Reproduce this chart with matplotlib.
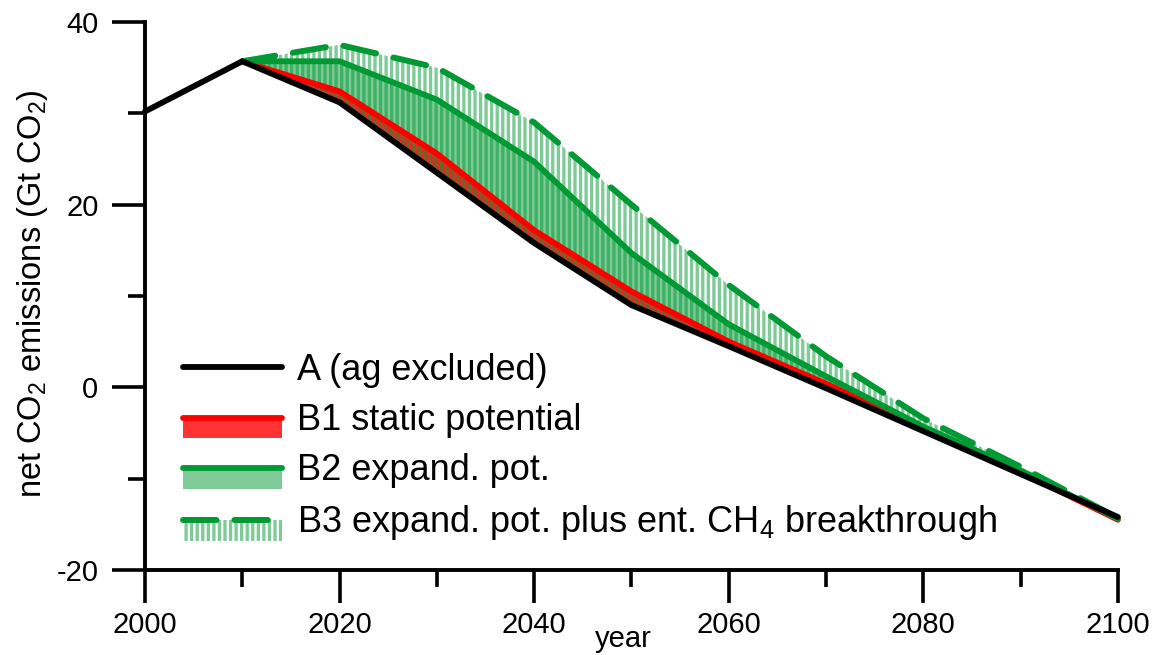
import numpy as np
import matplotlib
matplotlib.use("Agg")
import matplotlib.pyplot as plt
from matplotlib.legend_handler import HandlerBase
from matplotlib.patches import Rectangle
from matplotlib.lines import Line2D

plt.rcParams["font.family"] = "Liberation Sans"
plt.rcParams["mathtext.default"] = "regular"
plt.rcParams["hatch.linewidth"] = 2.4
plt.rcParams["axes.unicode_minus"] = False

# data (Gt CO2)
years = [2000, 2010, 2020, 2030, 2040, 2050, 2060, 2070, 2080, 2090, 2100]
years_b = years[1:]
a_excl = [30.2, 35.7, 31.2, 23.5, 15.8, 9.0, 4.5, -0.1, -4.8, -9.5, -14.2]
b1_static = [35.7, 32.4, 25.6, 17.2, 10.5, 5.0, 0.4, -4.5, -9.3, -14.5]
b2_expand = [35.7, 35.7, 31.5, 24.7, 14.7, 6.9, 1.2, -4.3, -9.1, -14.4]
b3_ch4 = [35.7, 37.5, 35.0, 29.0, 20.0, 11.2, 3.4, -3.4, -8.7, -14.3]

labels = ["A (ag excluded)", "B1 static potential", "B2 expand. pot.",
          "B3 expand. pot. plus ent. CH$_4$ breakthrough"]

green = "#009933"
red = "#ff0000"
green_half = (0.0, 0.6, 0.2, 0.5)

a_tail = np.array(a_excl[1:])

fig = plt.figure(figsize=(11.55, 6.55), dpi=100)
ax = fig.add_axes([0.1255, 0.1298, 0.8424, 0.8366])

# bands
ax.fill_between(years_b, a_tail, b2_expand, color=green, alpha=0.5, lw=0, zorder=1, clip_on=False)
ax.fill_between(years_b, a_tail, b1_static, color=red, alpha=0.8, lw=0, zorder=2, clip_on=False)
ax.fill_between(years_b, a_tail, b3_ch4, facecolor="none", edgecolor=green_half, hatch="|||",
                lw=0, zorder=3, clip_on=False)

dash = (0, (5.6, 3.0))
lB1, = ax.plot(years_b, b1_static, color=red, lw=4.2, zorder=4, clip_on=False,
               solid_capstyle="round", solid_joinstyle="round")
lB2, = ax.plot(years_b, b2_expand, color=green, lw=4.2, zorder=5, clip_on=False,
               solid_capstyle="round", solid_joinstyle="round")
lB3, = ax.plot(years_b, b3_ch4, color=green, lw=4.3, ls=dash, zorder=6, clip_on=False,
               dash_capstyle="round")
lA, = ax.plot(years, a_excl, color="black", lw=4.2, zorder=7, clip_on=False,
              solid_capstyle="round", solid_joinstyle="round")

ax.set_xlim(2000, 2100)
ax.set_ylim(-20, 40)
ax.set_xticks(range(2000, 2101, 20))
ax.set_xticks(range(2010, 2100, 20), minor=True)
ax.set_yticks([-20, 0, 20, 40])
ax.set_yticks([-10, 10, 30], minor=True)

for s in ["top", "right"]:
    ax.spines[s].set_visible(False)
for s in ["left", "bottom"]:
    ax.spines[s].set_linewidth(2.8)

ax.tick_params(which="major", direction="out", length=23.5, width=2.6, labelsize=21)
ax.tick_params(which="minor", direction="out", length=12, width=2.6)
ax.tick_params(axis="x", which="major", pad=6)
ax.tick_params(axis="y", which="major", pad=10)

ax.set_ylabel("net CO$_2$ emissions (Gt CO$_2$)", fontsize=23.5)
ax.yaxis.set_label_coords(-0.098, 0.505)
ax.set_xlabel("year", fontsize=21)
ax.xaxis.set_label_coords(0.492, -0.1)


class LineOverBand(HandlerBase):
    def __init__(self, band=None):
        super().__init__()
        self.band = band

    def create_artists(self, legend, orig_handle, xdescent, ydescent, width, height, fontsize, trans):
        ymid = height / 2 - ydescent
        arts = []
        if self.band is not None:
            arts.append(Rectangle((-xdescent, ymid - 15), width, 15, transform=trans, **self.band))
        ln = Line2D([-xdescent, width - xdescent], [ymid, ymid])
        ln.update_from(orig_handle)
        ln.set_transform(trans)
        arts.append(ln)
        return arts


hmap = {
    lA: LineOverBand(),
    lB1: LineOverBand(dict(facecolor=red, alpha=0.8, lw=0)),
    lB2: LineOverBand(dict(facecolor=green, alpha=0.5, lw=0)),
    lB3: LineOverBand(dict(facecolor="none", edgecolor=green_half, hatch="|||", lw=0)),
}
ax.legend([lA, lB1, lB2, lB3], labels, handler_map=hmap, loc="upper left",
          bbox_to_anchor=(183 / 1155, 1 - 353 / 655), bbox_transform=fig.transFigure,
          frameon=False, borderpad=0, borderaxespad=0, fontsize=26,
          handlelength=2.73, handletextpad=0.415, labelspacing=0.42, handleheight=0.7)

fig.savefig("out.png", dpi=100)
